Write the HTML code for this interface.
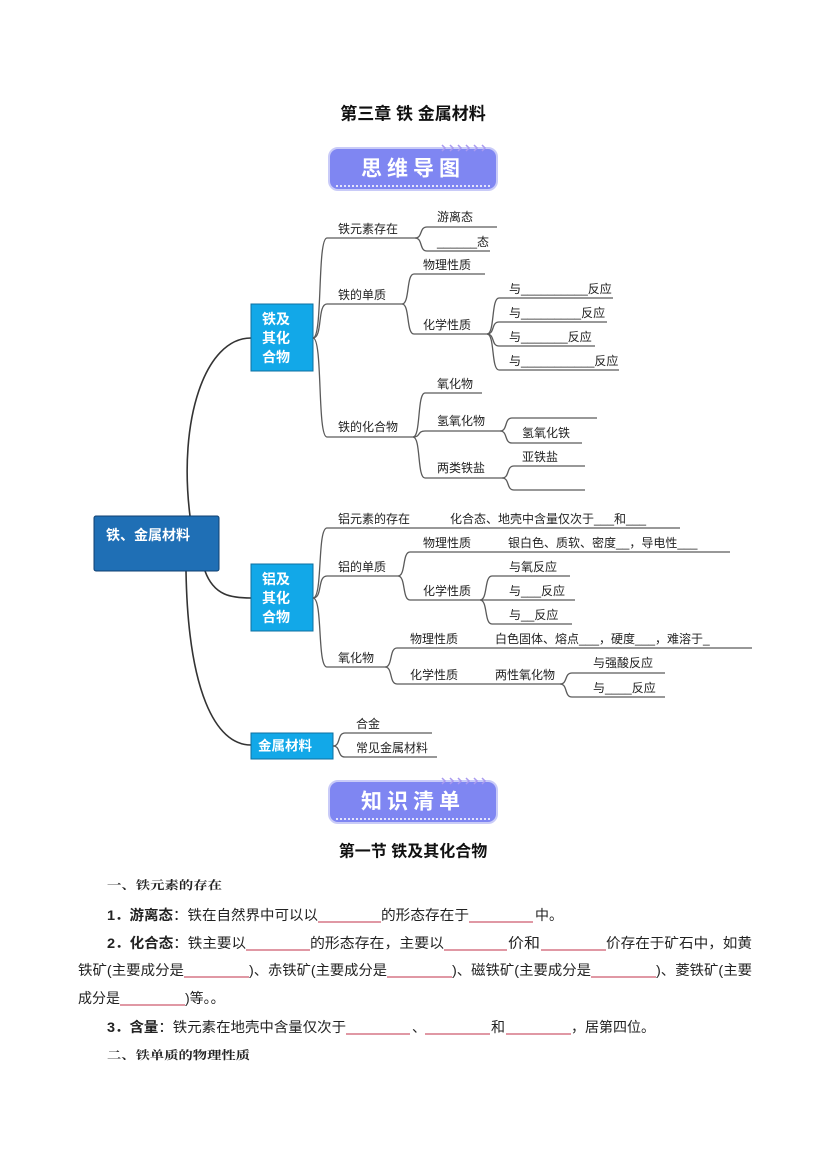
<!DOCTYPE html>
<html><head><meta charset="utf-8"><style>
html,body{margin:0;padding:0;background:#fff}
svg{display:block}
.m{font-family:"Liberation Sans","Noto Sans CJK SC",sans-serif;font-size:12px;fill:#222;dominant-baseline:central}
.b{font-family:"Liberation Sans","Noto Sans CJK SC",sans-serif;font-size:14px;fill:#222;dominant-baseline:central}
.bb{font-weight:bold}
.h{font-family:"Liberation Serif","Noto Serif CJK SC",serif;font-size:11.5px;font-weight:bold;fill:#222;dominant-baseline:central}
.w{font-family:"Liberation Sans","Noto Sans CJK SC",sans-serif;fill:#fff;dominant-baseline:central}
.ln path{fill:none;stroke:#5a5a5a;stroke-width:1.3}
.red line{stroke:#c0304a;stroke-width:1}
.chev{fill:none;stroke:#a89af0;stroke-width:1.5}
</style></head><body>
<svg width="827" height="1169" viewBox="0 0 827 1169" xmlns="http://www.w3.org/2000/svg">
<text x="413" y="114" text-anchor="middle" font-family="Liberation Sans,Noto Sans CJK SC,sans-serif" font-size="17" font-weight="bold" dominant-baseline="central" fill="#111">第三章  铁  金属材料</text>

<!-- banner 1 -->
<g>
<rect x="329" y="148" width="168" height="42" rx="9" fill="#7f86f2" stroke="#c9cbf8" stroke-width="2"/>
<line x1="336" y1="186" x2="490" y2="186" stroke="#e4e4fc" stroke-width="2" stroke-dasharray="2,2"/>
<path class="chev" d="M442 145 l3 3 l-3 3 M450 145 l3 3 l-3 3 M458 145 l3 3 l-3 3 M466 145 l3 3 l-3 3 M474 145 l3 3 l-3 3 M482 145 l3 3 l-3 3"/>
<text class="w" x="413" y="169" text-anchor="middle" font-size="21" font-weight="bold" letter-spacing="5">思维导图</text>
</g>

<!-- root curves -->
<g fill="none" stroke="#333" stroke-width="1.6">
<path d="M190 516 C178 420 205 338 251 338"/>
<path d="M205 571 C214 596 232 598 251 598"/>
<path d="M186 571 C188 690 215 745 251 745"/>
</g>

<rect x="94" y="516" width="125" height="55" rx="2" fill="#1f6fb5" stroke="#0f3f70"/>
<text class="w" x="106" y="535" font-size="14" font-weight="bold">铁、金属材料</text>

<rect x="251" y="304" width="62" height="67" fill="#12a8e8" stroke="#0d6fa0"/>
<text class="w" x="262" y="319" font-size="14" font-weight="bold">铁及</text>
<text class="w" x="262" y="338" font-size="14" font-weight="bold">其化</text>
<text class="w" x="262" y="357" font-size="14" font-weight="bold">合物</text>

<rect x="251" y="564" width="62" height="67" fill="#12a8e8" stroke="#0d6fa0"/>
<text class="w" x="262" y="579" font-size="14" font-weight="bold">铝及</text>
<text class="w" x="262" y="598" font-size="14" font-weight="bold">其化</text>
<text class="w" x="262" y="617" font-size="14" font-weight="bold">合物</text>

<rect x="251" y="733" width="82" height="26" fill="#12a8e8" stroke="#0d6fa0"/>
<text class="w" x="258" y="746" font-size="13.5" font-weight="bold">金属材料</text>

<g class="ln">
<path d="M313 338 C323 338 317 238 327 238 H415"/>
<path d="M313 338 C323 338 317 304 327 304 H402"/>
<path d="M313 338 C323 338 317 437 327 437 H413"/>
<path d="M415 238 C423 238 419 227 427 227 H497"/>
<path d="M415 238 C423 238 419 251 427 251 H490"/>
<path d="M402 304 C410 304 406 274 414 274 H485"/>
<path d="M402 304 C410 304 406 334 414 334 H487"/>
<path d="M487 334 C495 334 491 298 499 298 H613"/>
<path d="M487 334 C495 334 491 322 499 322 H607"/>
<path d="M487 334 C495 334 491 346 499 346 H595"/>
<path d="M487 334 C495 334 491 370 499 370 H619"/>
<path d="M413 437 C421 437 417 393 425 393 H482"/>
<path d="M413 437 C421 437 417 431 425 431 H500"/>
<path d="M413 437 C421 437 417 478 425 478 H502"/>
<path d="M500 431 C508 431 504 418 512 418 H597"/>
<path d="M500 431 C508 431 504 443 512 443 H582"/>
<path d="M502 478 C510 478 506 466 514 466 H585"/>
<path d="M502 478 C510 478 506 490 514 490 H585"/>

<path d="M313 598 C323 598 317 528 327 528 H680"/>
<path d="M313 598 C323 598 317 576 327 576 H398"/>
<path d="M313 598 C323 598 317 667 327 667 H385"/>
<path d="M398 576 C406 576 402 552 410 552 H730"/>
<path d="M398 576 C406 576 402 600 410 600 H480"/>
<path d="M480 600 C488 600 484 576 492 576 H570"/>
<path d="M480 600 C488 600 484 600 492 600 H575"/>
<path d="M480 600 C488 600 484 624 492 624 H572"/>
<path d="M385 667 C393 667 389 648 397 648 H752"/>
<path d="M385 667 C393 667 389 684 397 684 H560"/>
<path d="M560 684 C568 684 564 673 572 673 H665"/>
<path d="M560 684 C568 684 564 697 572 697 H665"/>
<path d="M333 746 C341 746 337 733 345 733 H432"/>
<path d="M333 746 C341 746 337 757 345 757 H437"/>
</g>

<g class="m">
<text x="338" y="229">铁元素存在</text>
<text x="338" y="295">铁的单质</text>
<text x="338" y="427">铁的化合物</text>
<text x="437" y="217">游离态</text>
<text x="437" y="242">______态</text>
<text x="423" y="265">物理性质</text>
<text x="423" y="325">化学性质</text>
<text x="509" y="289">与__________反应</text>
<text x="509" y="313">与_________反应</text>
<text x="509" y="337">与_______反应</text>
<text x="509" y="361">与___________反应</text>
<text x="437" y="384">氧化物</text>
<text x="437" y="421">氢氧化物</text>
<text x="437" y="468">两类铁盐</text>
<text x="522" y="433">氢氧化铁</text>
<text x="522" y="457">亚铁盐</text>

<text x="338" y="519">铝元素的存在</text>
<text x="450" y="519">化合态、地壳中含量仅次于___和___</text>
<text x="338" y="567">铝的单质</text>
<text x="423" y="543">物理性质</text>
<text x="508" y="543">银白色、质软、密度__，导电性___</text>
<text x="423" y="591">化学性质</text>
<text x="509" y="567">与氧反应</text>
<text x="509" y="591">与___反应</text>
<text x="509" y="615">与__反应</text>
<text x="338" y="658">氧化物</text>
<text x="410" y="639">物理性质</text>
<text x="495" y="639">白色固体、熔点___，硬度___，难溶于_</text>
<text x="410" y="675">化学性质</text>
<text x="495" y="675">两性氧化物</text>
<text x="593" y="663">与强酸反应</text>
<text x="593" y="688">与____反应</text>
<text x="356" y="724">合金</text>
<text x="356" y="748">常见金属材料</text>
</g>

<!-- banner 2 -->
<g>
<rect x="329" y="781" width="168" height="42" rx="9" fill="#7f86f2" stroke="#c9cbf8" stroke-width="2"/>
<line x1="336" y1="819" x2="490" y2="819" stroke="#e4e4fc" stroke-width="2" stroke-dasharray="2,2"/>
<path class="chev" d="M442 778 l3 3 l-3 3 M450 778 l3 3 l-3 3 M458 778 l3 3 l-3 3 M466 778 l3 3 l-3 3 M474 778 l3 3 l-3 3 M482 778 l3 3 l-3 3"/>
<text class="w" x="413" y="802" text-anchor="middle" font-size="21" font-weight="bold" letter-spacing="5">知识清单</text>
</g>

<text x="413" y="852" text-anchor="middle" font-family="Liberation Sans,Noto Sans CJK SC,sans-serif" font-size="16" font-weight="bold" dominant-baseline="central" fill="#111">第一节  铁及其化合物</text>

<text class="h" x="107" y="886" textLength="115" lengthAdjust="spacingAndGlyphs">一、铁元素的存在</text>

<g class="b">
<text x="107" y="915" textLength="211" lengthAdjust="spacingAndGlyphs"><tspan class="bb">1．游离态</tspan>：铁在自然界中可以以</text>
<text x="381" y="915" textLength="88" lengthAdjust="spacingAndGlyphs">的形态存在于</text>
<text x="535" y="915">中。</text>

<text x="107" y="943" textLength="139" lengthAdjust="spacingAndGlyphs"><tspan class="bb">2．化合态</tspan>：铁主要以</text>
<text x="310" y="943" textLength="134" lengthAdjust="spacingAndGlyphs">的形态存在，主要以</text>
<text x="508" y="943" textLength="32" lengthAdjust="spacingAndGlyphs">价和</text>
<text x="606" y="943" textLength="146" lengthAdjust="spacingAndGlyphs">价存在于矿石中，如黄</text>

<text x="78" y="970" textLength="106" lengthAdjust="spacingAndGlyphs">铁矿(主要成分是</text>
<text x="249" y="970" textLength="138" lengthAdjust="spacingAndGlyphs">)、赤铁矿(主要成分是</text>
<text x="452" y="970" textLength="139" lengthAdjust="spacingAndGlyphs">)、磁铁矿(主要成分是</text>
<text x="656" y="970" textLength="96" lengthAdjust="spacingAndGlyphs">)、菱铁矿(主要</text>

<text x="78" y="998" textLength="42" lengthAdjust="spacingAndGlyphs">成分是</text>
<text x="185" y="998">)等。。</text>

<text x="107" y="1027" textLength="239" lengthAdjust="spacingAndGlyphs"><tspan class="bb">3．含量</tspan>：铁元素在地壳中含量仅次于</text>
<text x="412" y="1027">、</text>
<text x="491" y="1027">和</text>
<text x="571" y="1027">，居第四位。</text>
</g>

<g class="red">
<line x1="318" y1="922" x2="381" y2="922"/>
<line x1="469" y1="922" x2="533" y2="922"/>
<line x1="246" y1="950" x2="310" y2="950"/>
<line x1="444" y1="950" x2="507" y2="950"/>
<line x1="541" y1="950" x2="606" y2="950"/>
<line x1="184" y1="977" x2="249" y2="977"/>
<line x1="387" y1="977" x2="452" y2="977"/>
<line x1="591" y1="977" x2="656" y2="977"/>
<line x1="120" y1="1005" x2="185" y2="1005"/>
<line x1="346" y1="1034" x2="410" y2="1034"/>
<line x1="425" y1="1034" x2="490" y2="1034"/>
<line x1="506" y1="1034" x2="571" y2="1034"/>
</g>

<text class="h" x="107" y="1056" textLength="143" lengthAdjust="spacingAndGlyphs">二、铁单质的物理性质</text>
</svg>
</body></html>
